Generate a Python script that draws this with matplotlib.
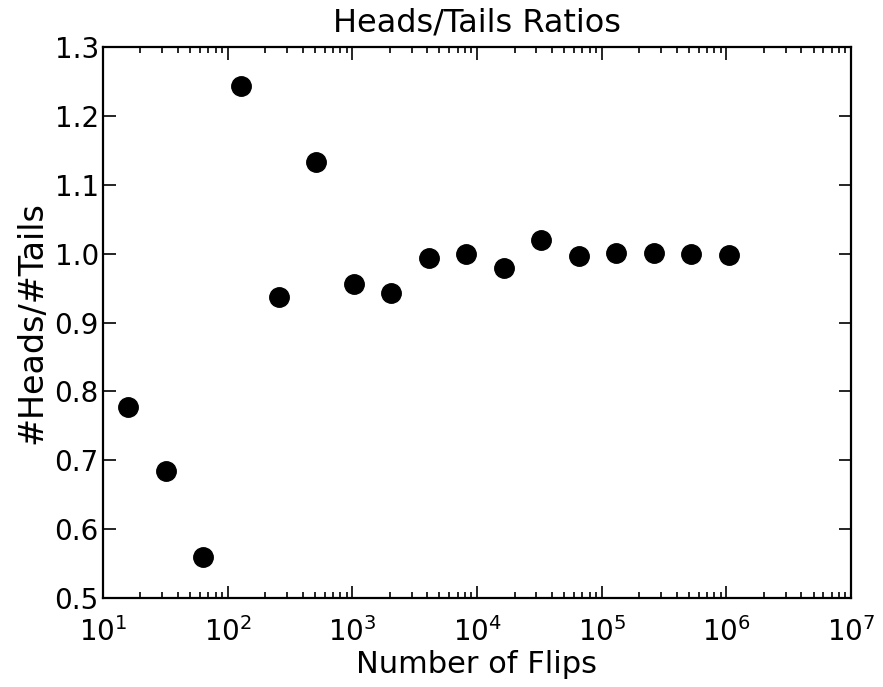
import matplotlib
matplotlib.use("Agg")
import matplotlib.pyplot as plt

# number of flips: 2**4 .. 2**20
flips = [16, 32, 64, 128, 256, 512, 1024, 2048, 4096, 8192, 16384,
         32768, 65536, 131072, 262144, 524288, 1048576]
ratios = [0.777, 0.684, 0.560, 1.243, 0.937, 1.133, 0.956, 0.943, 0.993,
          1.000, 0.979, 1.020, 0.997, 1.001, 1.001, 0.999, 0.998]

plt.rcParams["font.family"] = "DejaVu Sans"
fig = plt.figure(figsize=(8.83, 6.87), dpi=100)
ax = fig.add_axes([0.1166, 0.1295, 0.8472, 0.8021])

ax.semilogx(flips, ratios, "ko", markersize=14)
ax.set_xlim(10, 1e7)
ax.set_ylim(0.5, 1.3)

ax.set_title("Heads/Tails Ratios", fontsize=23, pad=11)
ax.set_xlabel("Number of Flips", fontsize=22, labelpad=2)
ax.set_ylabel("#Heads/#Tails", fontsize=24, labelpad=4)

for s in ax.spines.values():
    s.set_linewidth(1.6)
ax.tick_params(which="both", direction="in", top=True, right=True, labelsize=20, width=1.2)
ax.tick_params(which="major", length=9)
ax.tick_params(axis="y", which="major", pad=3)
ax.tick_params(axis="x", which="major", pad=14)
ax.tick_params(which="minor", length=4.5)

fig.savefig("out.png", dpi=100)
